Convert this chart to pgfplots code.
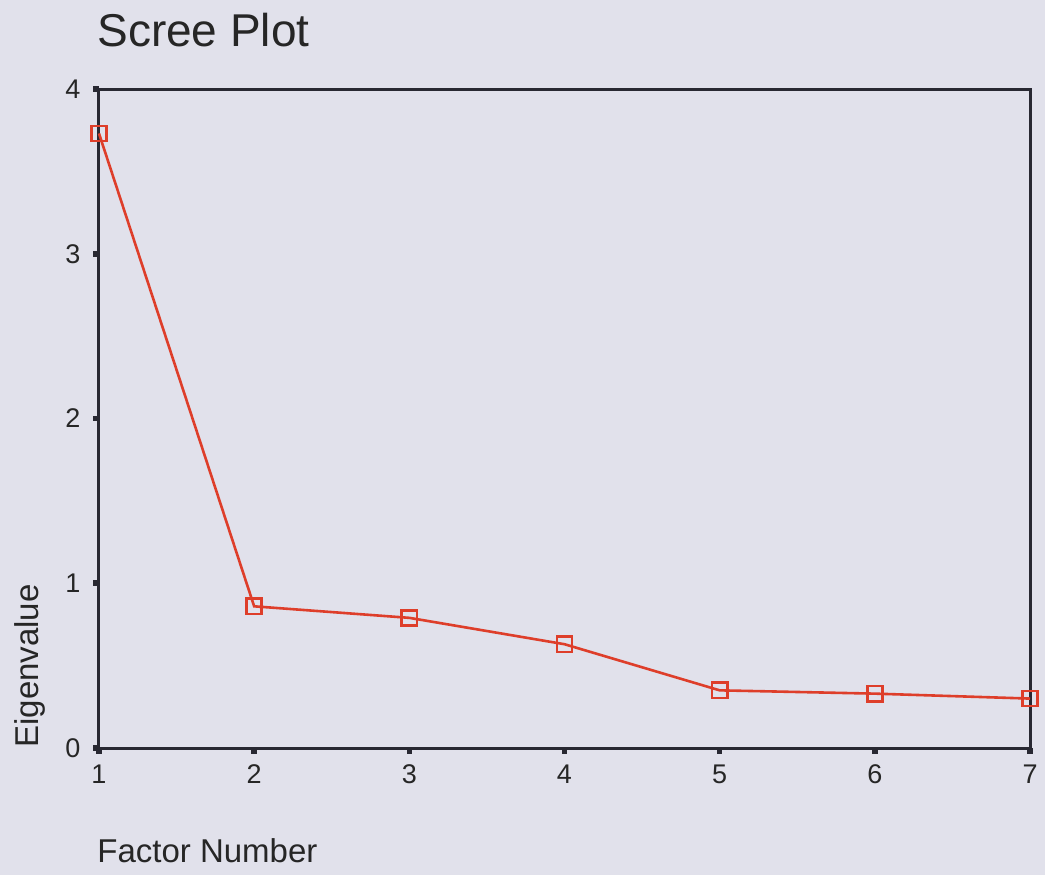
\documentclass[border=0pt]{standalone}
\usepackage{fontspec}
\setmainfont{Liberation Sans}
\usepackage{pgfplots}
\pgfplotsset{compat=1.18}
\definecolor{bg}{RGB}{225,225,235}
\definecolor{axisgray}{RGB}{40,40,50}
\definecolor{screered}{RGB}{222,62,42}
\begin{document}
\begin{tikzpicture}
% page background, 1045x875 px at 0.5pt per px
\fill[bg] (-49.5pt,-63.5pt) rectangle ++(522.5pt,437.5pt);
\begin{axis}[
  at={(0,0)}, anchor=south west,
  scale only axis, width=465.5pt, height=329.5pt,
  xmin=1, xmax=7, ymin=0, ymax=4,
  xtick={1,2,3,4,5,6,7}, ytick={0,1,2,3,4},
  xtick pos=bottom, ytick pos=left,
  tick align=outside, major tick length=2.8pt,
  major tick style={line width=2.8pt, color=axisgray},
  axis line style={line width=1.5pt, color=axisgray},
  /pgf/number format/assume math mode=true,
  ticklabel style={font=\fontsize{13.5}{16}\selectfont, color=black!85},
  yticklabel style={xshift=-3pt},
  xticklabel style={yshift=-2pt},
  clip=false,
]
\addplot[color=screered, line width=1.3pt, mark=square, mark size=3.8pt,
  mark options={line width=1.3pt}]
  coordinates {(1,3.73) (2,0.86) (3,0.79) (4,0.63) (5,0.35) (6,0.33) (7,0.30)};
\end{axis}
\node[anchor=base west, font=\fontsize{23}{27}\selectfont, text=black!85, inner sep=0pt]
  at (-1pt,350.5pt) {Scree Plot};
\node[anchor=base west, font=\fontsize{16.5}{19}\selectfont, text=black!85, inner sep=0pt]
  at (-1pt,-57pt) {Factor Number};
\node[rotate=90, anchor=base west, font=\fontsize{16.5}{19}\selectfont, text=black!85, inner sep=0pt]
  at (-30pt,0pt) {Eigenvalue};
\end{tikzpicture}
\end{document}
